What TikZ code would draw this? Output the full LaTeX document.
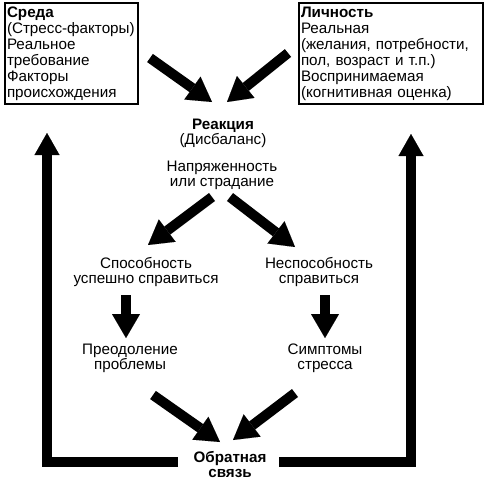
\documentclass[tikz,border=0pt]{standalone}
\usepackage{fontspec}
\setmainfont{Liberation Sans}
\usetikzlibrary{arrows.meta}
\begin{document}
\begin{tikzpicture}[x=1pt,y=-1pt,
  txt/.style={align=center, font=\fontsize{15.2}{15}\selectfont, inner sep=0pt},
  boxtxt/.style={draw, line width=2pt, align=left, anchor=north west,
    font=\fontsize{15.2}{16}\selectfont, inner xsep=2pt, minimum height=101pt},
  bigarrow/.style={line width=10pt, -{Triangle[width=28pt,length=24pt,line width=0.01pt]}},
  looparrow/.style={line width=10pt, line join=miter, -{Triangle[width=25pt,length=22pt,line width=0.01pt]}}]
\useasboundingbox (0,0) rectangle (500,482);

\node[boxtxt, text width=129pt] (sreda) at (4,2)
  {\textbf{Среда}\\(Стресс-факторы)\\Реальное\\требование\\Факторы\\происхождения};
\node[boxtxt, text width=180pt] (lich) at (298,2)
  {\textbf{Личность}\\Реальная\\(желания, потребности,\\пол, возраст и т.п.)\\Воспринимаемая\\(когнитивная оценка)};

\node[txt] (reac) at (223,133) {\textbf{Реакция}\\(Дисбаланс)};
\node[txt] (tens) at (222,175) {Напряженность\\или страдание};
\node[txt] (cope) at (146,272) {Способность\\успешно справиться};
\node[txt] (fail) at (319,272) {Неспособность\\справиться};
\node[txt] (over) at (130,358) {Преодоление\\проблемы};
\node[txt] (symp) at (325,358) {Симптомы\\стресса};
\node[txt] (fb) at (230,464) {\textbf{Обратная}\\\textbf{связь}};

\coordinate (sredaOut) at (150,58);
\coordinate (lichOut) at (288,53);
\coordinate (reacInL) at (212,102);
\coordinate (reacInR) at (227,102);
\coordinate (tensOutL) at (212,197);
\coordinate (tensOutR) at (230,197);
\coordinate (copeIn) at (148,245);
\coordinate (failIn) at (295,247);
\coordinate (copeOut) at (126,295);
\coordinate (overIn) at (126,338);
\coordinate (failOut) at (325,295);
\coordinate (sympIn) at (325,338);
\coordinate (overOut) at (153,395);
\coordinate (sympOut) at (295,393);
\coordinate (fbInL) at (220,442);
\coordinate (fbInR) at (233,440);
\coordinate (fbOutL) at (178,462);
\coordinate (fbOutR) at (279,462);
\coordinate (sredaBack) at (47,133);
\coordinate (lichBack) at (411,134);

\draw[bigarrow] (sredaOut) -- (reacInL);
\draw[bigarrow] (lichOut) -- (reacInR);
\draw[bigarrow] (tensOutL) -- (copeIn);
\draw[bigarrow] (tensOutR) -- (failIn);
\draw[bigarrow] (copeOut) -- (overIn);
\draw[bigarrow] (failOut) -- (sympIn);
\draw[bigarrow] (overOut) -- (fbInL);
\draw[bigarrow] (sympOut) -- (fbInR);
\draw[looparrow] (fbOutL) -| (sredaBack);
\draw[looparrow] (fbOutR) -| (lichBack);
\end{tikzpicture}
\end{document}
